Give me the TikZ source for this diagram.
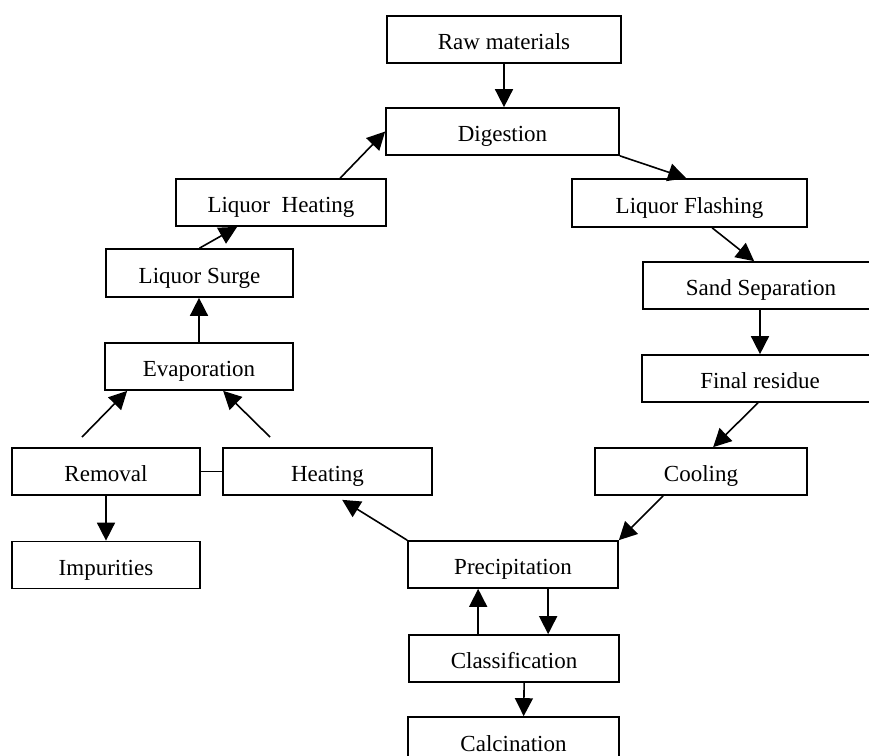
\documentclass[tikz,border=0pt]{standalone}
\usepackage{fontspec}
\setmainfont{Liberation Serif}
\usetikzlibrary{arrows.meta,calc}
\begin{document}
\begin{tikzpicture}[x=1pt,y=-1pt,
  box/.style={draw,line width=1.7pt,inner sep=0pt,minimum height=47pt,text height=20pt,text depth=0pt,font=\fontsize{23}{26}\selectfont},
  arr/.style={line width=1.6pt,-{Triangle[length=18pt,width=18pt]}},
  ln/.style={line width=1.6pt}]
\useasboundingbox (0,0) rectangle (869,755);
\clip (0,0) rectangle (869,755);
\fill[white] (0,0) rectangle (869,755);
\node[box,minimum width=234pt] (raw) at (504,39.5) {Raw materials};
\node[box,minimum width=233pt] (dig) at (502.5,131.5) {Digestion};
\node[box,minimum width=235pt,minimum height=48pt] (flash) at (689.5,203) {Liquor Flashing};
\node[box,minimum width=236pt] (sand) at (761,285.5) {Sand Separation};
\node[box,minimum width=236pt] (res) at (760,378.5) {Final residue};
\node[box,minimum width=212pt] (cool) at (701,471.5) {Cooling};
\node[box,minimum width=210pt] (prec) at (513,564.5) {Precipitation};
\node[box,minimum width=210pt] (class) at (514,658.5) {Classification};
\node[box,minimum width=211pt,minimum height=48pt] (calc) at (513.5,741) {Calcination};
\node[box,minimum width=209pt] (heat) at (327.5,471.5) {Heating};
\node[box,minimum width=188pt] (rem) at (106,471.5) {Removal};
\node[box,minimum width=188pt] (imp) at (106,565) {Impurities};
\node[box,minimum width=188pt] (evap) at (199,366.5) {Evaporation};
\node[box,minimum width=187pt,minimum height=48pt] (surge) at (199.5,273) {Liquor Surge};
\node[box,minimum width=210pt] (lheat) at (281,202.5) {Liquor~~Heating};
\coordinate (fl) at (82,437);
\coordinate (fr) at (270,437);
\draw[arr] (raw.south) -- (raw.south |- dig.north);
\draw[arr] (dig.south east) -- ($(flash.north west)+(115,0)$);
\draw[arr] ($(flash.south west)+(141,0)$) -- ($(sand.north west)+(112,0)$);
\draw[arr] ($(sand.south)+(-1,0)$) -- ($(sand.south |- res.north)+(-1,0)$);
\draw[arr] ($(res.south)+(-2,0)$) -- ($(cool.north west)+(119,0)$);
\draw[arr] ($(cool.south west)+(69,0)$) -- (prec.north east);
\draw[arr] (prec.north west) -- ($(heat.south west)+(120,4)$);
\draw[ln] (rem.east) -- (heat.west);
\draw[arr] (rem.south) -- (imp.north);
\draw[arr] (fl) -- ($(evap.south west)+(23,0)$);
\draw[arr] (fr) -- ($(evap.south west)+(119,0)$);
\draw[arr] (evap.north) -- (evap.north |- surge.south);
\draw[arr] (surge.north) -- ($(lheat.south west)+(62,0)$);
\draw[arr] ($(lheat.north west)+(165,0)$) -- (dig.west);
\draw[arr] ($(class.north west)+(70,0)$) -- ($(prec.south west)+(71,0)$);
\draw[arr] ($(prec.south west)+(141,0)$) -- ($(class.north west)+(140,0)$);
\draw[arr] ($(class.south west)+(116,0)$) -- ($(calc.north west)+(116.5,0)$);
\end{tikzpicture}
\end{document}
